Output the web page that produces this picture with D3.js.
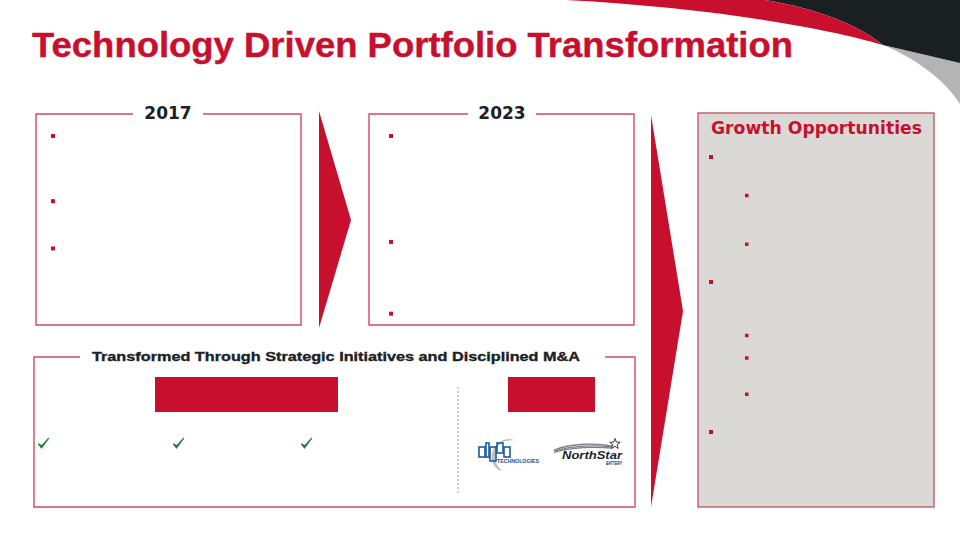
<!DOCTYPE html>
<html>
<head>
<meta charset="utf-8">
<script src="https://cdn.jsdelivr.net/npm/d3@7"></script>
<style>
  html, body { margin: 0; padding: 0; background: #fff; }
  svg { display: block; }
</style>
</head>
<body>
<svg id="chart" width="960" height="540"></svg>
<script>
// ---- content ----
const slideTitle = "Technology Driven Portfolio Transformation";
const panelYears = ["2017", "2023"];
const growthTitle = "Growth Opportunities";
const bottomTitle = "Transformed Through Strategic Initiatives and Disciplined M&A";
// bullet start offsets, in text-line units, for each panel
const bullets2017 = [0, 4, 6.9];
const bullets2023 = [0, 6.5, 10.9];
// growth opportunities bullets: [line offset, indent level]
const growthLines = [0, 3.1, 7.0, 10.0, 14.3, 16.1, 19.0, 22.0];
const growthLevels = [1, 2, 2, 1, 2, 2, 2, 1];
const checkCount = 3;
const acquisitions = ["alpha TECHNOLOGIES", "NorthStar BATTERY"];

// ---- drawing ----
const RED = "#c8102e", DARK = "#1b2124", BORDER = "#d24a64";
const svg = d3.select("#chart");

// top-right swoosh
const grayPath = d3.path();
grayPath.moveTo(883, 45); grayPath.lineTo(960, 63); grayPath.lineTo(960, 104);
grayPath.bezierCurveTo(945, 80, 915, 58, 883, 45); grayPath.closePath();
svg.append("path").attr("d", grayPath.toString()).attr("fill", "#b4b4b4");

const darkPath = d3.path();
darkPath.moveTo(765, 0); darkPath.lineTo(960, 0); darkPath.lineTo(960, 63);
darkPath.lineTo(883, 45);
darkPath.bezierCurveTo(860, 26, 820, 9, 765, 0); darkPath.closePath();
svg.append("path").attr("d", darkPath.toString()).attr("fill", "#1a1f22");

const redPath = d3.path();
redPath.moveTo(566, 0); redPath.lineTo(765, 0);
redPath.bezierCurveTo(820, 9, 860, 26, 883, 45);
redPath.bezierCurveTo(820, 26, 700, 7, 566, 0); redPath.closePath();
svg.append("path").attr("d", redPath.toString()).attr("fill", RED);

// title
svg.append("text").attr("x", 32).attr("y", 57)
  .attr("font-family", "Liberation Sans, Arial, sans-serif").attr("font-weight", "bold")
  .attr("font-size", 35).attr("fill", RED).attr("stroke", RED).attr("stroke-width", 0.4)
  .attr("textLength", 761).attr("lengthAdjust", "spacingAndGlyphs")
  .text(slideTitle);

// helper: box with titled gap in top border
function framedBox(x0, y0, x1, y1, gap0, gap1, fill) {
  if (fill) svg.append("rect").attr("x", x0).attr("y", y0).attr("width", x1 - x0).attr("height", y1 - y0).attr("fill", fill);
  const p = d3.path();
  p.moveTo(gap0, y0); p.lineTo(x0, y0); p.lineTo(x0, y1); p.lineTo(x1, y1); p.lineTo(x1, y0); p.lineTo(gap1, y0);
  svg.append("path").attr("d", p.toString()).attr("fill", "none").attr("stroke", BORDER).attr("stroke-width", 1.4);
}

// year panels
const panels = [
  { x0: 36, x1: 301, gap: [133, 203], bullets: bullets2017, bx: 53 },
  { x0: 369, x1: 634, gap: [468, 536], bullets: bullets2023, bx: 391 }
];
const lineY = d3.scaleLinear().domain([0, 1]).range([136, 152.3]);
panels.forEach((p, i) => {
  framedBox(p.x0, 114, p.x1, 325, p.gap[0], p.gap[1]);
  svg.append("text").attr("x", (p.gap[0] + p.gap[1]) / 2).attr("y", 118.5)
    .attr("text-anchor", "middle").attr("font-family", "DejaVu Sans, Verdana, sans-serif")
    .attr("font-weight", "bold").attr("font-size", 17).attr("fill", DARK).text(panelYears[i]);
  svg.selectAll(null).data(p.bullets).enter().append("rect")
    .attr("x", p.bx - 2).attr("y", d => lineY(d) - 2).attr("width", 4).attr("height", 4).attr("fill", RED);
});

// arrows
svg.append("path").attr("d", "M319,111 L351,220 L319,328 Z").attr("fill", RED);
svg.append("path").attr("d", "M651,115 L683,311 L651,507 Z").attr("fill", RED);

// growth box
svg.append("rect").attr("x", 698).attr("y", 113).attr("width", 236).attr("height", 394)
  .attr("fill", "#dbd9d6").attr("stroke", "#c35a6c").attr("stroke-width", 1.4);
svg.append("text").attr("x", 816.5).attr("y", 134).attr("text-anchor", "middle")
  .attr("font-family", "DejaVu Sans, Verdana, sans-serif").attr("font-weight", "bold")
  .attr("font-size", 17).attr("fill", RED)
  .attr("textLength", 211).attr("lengthAdjust", "spacingAndGlyphs").text(growthTitle);
const gLineY = d3.scaleLinear().domain([0, 1]).range([157, 169.5]);
const indentX = d3.scaleOrdinal().domain([1, 2]).range([711, 747]);
svg.selectAll(null).data(growthLines).enter().append("rect")
  .attr("x", (d, i) => indentX(growthLevels[i]) - 2)
  .attr("y", d => gLineY(d) - 2)
  .attr("width", (d, i) => growthLevels[i] === 1 ? 4 : 3.5)
  .attr("height", (d, i) => growthLevels[i] === 1 ? 4 : 3.5)
  .attr("fill", RED);

// bottom box
framedBox(34, 357, 635, 507, 80, 605);
svg.append("text").attr("x", 336).attr("y", 361).attr("text-anchor", "middle")
  .attr("font-family", "Liberation Sans, Arial, sans-serif").attr("font-weight", "bold")
  .attr("font-size", 13.5).attr("fill", DARK).attr("stroke", DARK).attr("stroke-width", 0.35)
  .attr("textLength", 488).attr("lengthAdjust", "spacingAndGlyphs").text(bottomTitle);

svg.append("rect").attr("x", 155).attr("y", 377).attr("width", 183).attr("height", 35).attr("fill", RED);
svg.append("rect").attr("x", 508).attr("y", 377).attr("width", 87).attr("height", 35).attr("fill", RED);
svg.append("line").attr("x1", 458).attr("x2", 458).attr("y1", 387).attr("y2", 493)
  .attr("stroke", "#9a9a9a").attr("stroke-width", 1).attr("stroke-dasharray", "2,2");

// checkmarks
const checkXs = [43, 178, 306];
svg.selectAll(null).data(d3.range(checkCount)).enter().append("path")
  .attr("transform", d => `translate(${checkXs[d]},444)`)
  .attr("d", "M-4.5,0 L-1.5,4 L5.5,-5.5 L-1.2,1.8 Z")
  .attr("fill", "#1f7a3a").attr("stroke", "#1f7a3a").attr("stroke-width", 1.2).attr("stroke-linejoin", "round");

// logos (approximate)
const alpha = svg.append("g").attr("transform", "translate(479,443)");
alpha.append("path").attr("d", "M30,-3 C14,-4 12,22 22,27 C8,24 10,-6 34,-3")
  .attr("fill", "#c8c8c8").attr("stroke", "#a8a8a8").attr("stroke-width", 0.8);
// blocky "alpha" letters
const blocks = [[0, 4, 6, 10], [7, 0, 3, 14], [11, 4, 6, 14], [18, 0, 6, 10], [25, 4, 6, 10]];
blocks.forEach(b => alpha.append("rect").attr("x", b[0]).attr("y", b[1]).attr("width", b[2]).attr("height", b[3])
  .attr("fill", "none").attr("stroke", "#1a5aa6").attr("stroke-width", 1.6));
alpha.append("text").attr("x", 18).attr("y", 20).attr("font-family", "Liberation Sans, Arial, sans-serif")
  .attr("font-weight", "bold").attr("font-size", 5).attr("fill", "#1a4f96")
  .attr("textLength", 42).attr("lengthAdjust", "spacingAndGlyphs").text(acquisitions[0].split(" ")[1]);

const ns = svg.append("g").attr("transform", "translate(552,440)");
[0, 2, 4].forEach(o => ns.append("path").attr("d", `M2,${10 + o * 0.6} C20,${3 + o} 45,${3 + o} 60,${6 + o * 0.5}`)
  .attr("fill", "none").attr("stroke", "#7d8389").attr("stroke-width", 1.3));
ns.append("text").attr("x", 10).attr("y", 19).attr("font-family", "Liberation Sans, Arial, sans-serif")
  .attr("font-weight", "bold").attr("font-style", "italic").attr("font-size", 11).attr("fill", "#1b2530")
  .attr("textLength", 60).attr("lengthAdjust", "spacingAndGlyphs").text(acquisitions[1].split(" ")[0]);
ns.append("text").attr("x", 54).attr("y", 25).attr("font-family", "Liberation Sans, Arial, sans-serif")
  .attr("font-weight", "bold").attr("font-style", "italic").attr("font-size", 4.5).attr("fill", "#1b2530")
  .attr("textLength", 16).attr("lengthAdjust", "spacingAndGlyphs").text(acquisitions[1].split(" ")[1]);
const star = d3.range(10).map(k => {
  const r = k % 2 === 0 ? 5.5 : 2.3, a = -Math.PI / 2 + k * Math.PI / 5;
  return [63 + r * Math.cos(a), 4 + r * Math.sin(a)];
});
ns.append("path").attr("d", d3.line()(star) + "Z").attr("fill", "#fff").attr("stroke", "#1b2530").attr("stroke-width", 0.9);
</script>
</body>
</html>
